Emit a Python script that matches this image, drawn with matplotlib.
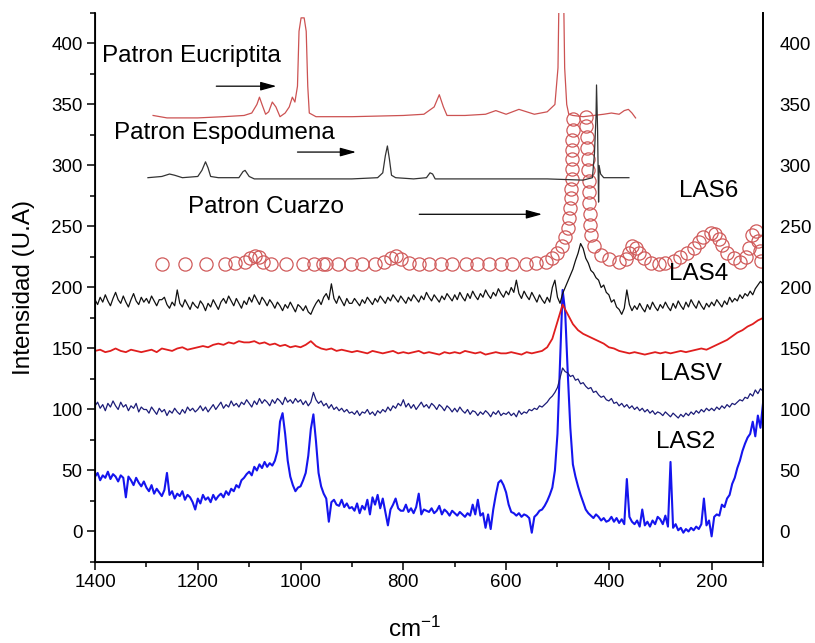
'''Raman spectra of LAS samples with reference patterns'''

import numpy as np
import matplotlib
matplotlib.use('Agg')
import matplotlib.pyplot as plt

plt.rcParams['font.family'] = ['Liberation Sans', 'DejaVu Sans']
plt.rcParams['mathtext.default'] = 'regular'

# sampling grids of the measured spectra (cm-1)
wn5 = np.arange(1400, 95, -5)
wn10 = np.arange(1400, 95, -10)

# LAS2 (blue), 5 cm-1 steps, rows of 100 cm-1
las2 = [45, 48, 42, 46, 44, 49, 43, 47, 45, 41, 46, 44, 28, 45, 42, 38, 44, 40, 37, 41,
        36, 33, 38, 31, 35, 32, 29, 34, 48, 30, 33, 27, 31, 29, 33, 26, 30, 28, 24, 18,
        27, 23, 30, 26, 28, 24, 30, 26, 29, 31, 28, 33, 30, 35, 33, 38, 36, 42, 44, 47,
        49, 46, 53, 50, 55, 52, 57, 53, 56, 54, 58, 66, 90, 97, 80, 58, 45, 38, 33, 36,
        37, 42, 48, 62, 84, 96, 74, 48, 37, 31, 27, 8, 24, 26, 22, 21, 26, 20, 23, 19,
        20, 17, 23, 15, 21, 18, 26, 14, 28, 22, 30, 19, 27, 16, 5, 18, 22, 27, 19, 17,
        17, 22, 16, 19, 15, 20, 31, 14, 18, 17, 16, 19, 15, 17, 21, 14, 18, 16, 13, 17,
        15, 13, 16, 14, 12, 15, 13, 22, 14, 26, 13, 15, 3, 14, 2, 18, 30, 40, 42, 38,
        32, 22, 16, 15, 13, 15, 12, 14, 13, 11, -1, 12, 14, 17, 18, 21, 25, 30, 36, 50,
        80, 140, 198, 180, 130, 85, 55, 45, 37, 30, 24, 18, 15, 13, 11, 14, 12, 9, 11, 8,
        9, 12, 8, 11, 7, 10, 6, 43, 12, 8, 6, 9, 4, 18, 5, 8, 4, 9, 6, 12,
        10, 6, 13, 4, 57, 3, 6, 1, 3, -1, 2, 0, 3, 1, 4, 2, 6, 27, 5, 9,
        -4, 12, 14, 13, 22, 20, 27, 30, 39, 44, 52, 58, 66, 72, 77, 80, 90, 78, 95, 85,
        105]

# second dark blue spectrum (~100 baseline)
las_navy = [103, 106, 101, 104, 99, 105, 102, 107, 103, 100, 106, 102, 104, 99, 103, 101, 105, 98, 102, 100,
            100, 97, 102, 99, 96, 101, 98, 100, 95, 99, 97, 101, 98, 96, 100, 97, 102, 99, 101, 98,
            100, 103, 99, 102, 98, 101, 104, 100, 103, 106, 101, 104, 102, 107, 103, 105, 102, 106, 104, 108,
            105, 102, 107, 104, 109, 105, 108, 106, 103, 108, 105, 109, 107, 104, 110, 106, 108, 105, 109, 106,
            108, 104, 107, 103, 106, 114, 108, 105, 107, 103, 105, 101, 104, 100, 102, 99, 101, 98, 100, 97,
            98, 96, 99, 95, 98, 97, 100, 96, 98, 95, 99, 97, 100, 98, 102, 99, 103, 101, 105, 103,
            108, 102, 105, 101, 104, 100, 103, 106, 102, 104, 101, 105, 103, 100, 104, 102, 99, 103, 101, 98,
            101, 98, 102, 99, 97, 100, 96, 99, 98, 95, 98, 96, 99, 97, 94, 98, 96, 99, 95, 97,
            96, 98, 95, 97, 94, 99, 96, 98, 97, 100, 99, 101, 100, 103, 102, 104, 106, 109, 111, 114,
            118, 126, 134, 131, 130, 127, 128, 124, 125, 121, 122, 119, 117, 118, 114, 115, 112, 110, 111, 108,
            107, 109, 105, 106, 103, 105, 102, 104, 101, 103, 100, 102, 99, 101, 98, 100, 97, 99, 96, 98,
            97, 95, 98, 96, 94, 97, 95, 93, 96, 94, 97, 95, 98, 96, 99, 97, 100, 98, 101, 99,
            101, 99, 102, 100, 103, 101, 104, 102, 105, 104, 106, 108, 107, 110, 109, 113, 111, 116, 113, 117,
            115]

# LAS4 (black)
las4 = [190, 186, 192, 188, 194, 189, 185, 191, 196, 190, 187, 193, 188, 184, 190, 195, 189, 186, 192, 188,
        191, 187, 193, 189, 185, 190, 190, 192, 186, 183, 188, 185, 198, 187, 184, 190, 186, 182, 188, 185,
        183, 189, 186, 181, 187, 184, 190, 186, 182, 188, 191, 187, 193, 189, 185, 191, 187, 183, 189, 186,
        192, 188, 194, 190, 186, 192, 189, 185, 190, 187, 183, 188, 185, 181, 186, 183, 188, 184, 180, 186,
        184, 181, 185, 180, 178, 183, 187, 190, 186, 192, 195, 190, 203, 191, 187, 193, 189, 185, 191, 187,
        187, 191, 188, 185, 190, 187, 192, 189, 186, 191, 188, 193, 190, 187, 192, 189, 194, 191, 188, 193,
        190, 187, 192, 189, 194, 191, 188, 193, 190, 196, 192, 189, 194, 191, 188, 193, 190, 195, 192, 189,
        194, 190, 196, 192, 189, 195, 191, 197, 193, 190, 195, 192, 198, 194, 191, 196, 193, 199, 195, 192,
        197, 194, 200, 196, 206, 195, 191, 197, 193, 190, 196, 192, 188, 194, 190, 187, 192, 188, 200, 206,
        192, 187, 195, 200, 205, 210, 215, 222, 228, 236, 232, 224, 220, 214, 212, 208, 206, 200, 202, 196,
        194, 188, 190, 184, 182, 178, 183, 198, 186, 181, 185, 182, 187, 183, 180, 186, 182, 188, 184, 181,
        186, 183, 188, 184, 181, 187, 183, 189, 185, 182, 188, 184, 190, 186, 183, 189, 185, 182, 187, 184,
        188, 185, 190, 187, 184, 189, 186, 192, 188, 191, 189, 194, 191, 195, 193, 197, 194, 199, 202, 205,
        203]

# red spectrum (~150 baseline), 10 cm-1 steps
las_red = [148, 149, 147, 148, 150, 148, 147, 149, 148, 147,
           148, 149, 147, 150, 149, 148, 150, 151, 149, 150,
           151, 152, 151, 153, 154, 153, 155, 154, 156, 155,
           155, 156, 154, 155, 153, 154, 152, 153, 151, 152,
           151, 153, 156, 152, 150, 149, 150, 148, 149, 148,
           147, 148, 147, 146, 148, 147, 146, 147, 148, 146,
           147, 146, 147, 148, 146, 147, 146, 145, 147, 146,
           147, 146, 148, 147, 146, 147, 145, 146, 147, 146,
           146, 147, 146, 145, 147, 146, 147, 148, 151, 158,
           172, 186, 178, 170, 165, 162, 160, 158, 156, 154,
           151, 150, 148, 147, 146, 147, 146, 145, 146, 147,
           146, 147, 146, 147, 148, 147, 148, 149, 150, 149,
           151, 153, 155, 157, 160, 163, 165, 168, 170, 173,
           175]

# LAS6 (open circles)
las6_x = [1270, 1225, 1184, 1148, 1128, 1109, 1099, 1089, 1080, 1074, 1057, 1028, 996, 973, 957,
          950, 928, 902, 880, 856, 837, 824, 814, 804, 788, 769, 750, 727, 705, 678,
          656, 633, 610, 588, 562, 542, 523, 511, 501, 492, 485, 480, 477, 475, 474,
          473, 472, 472, 471, 471, 471, 470, 470, 445, 444, 443, 442, 441, 440, 439,
          439, 438, 437, 436, 434, 429, 416, 400, 381, 367, 361, 355, 348, 342, 332,
          318, 303, 290, 274, 261, 248, 235, 225, 216, 202, 193, 186, 180, 171, 157,
          144, 134, 128, 122, 114, 109, 105, 103]
las6_y = [219, 219, 219, 219, 220, 221, 224, 226, 225, 221, 219, 219, 219, 219, 219,
          219, 219, 219, 219, 219, 221, 224, 226, 223, 220, 219, 219, 219, 219, 219,
          219, 219, 219, 219, 219, 220, 221, 224, 228, 234, 241, 249, 257, 265, 273,
          281, 289, 297, 305, 313, 321, 329, 338, 340, 332, 323, 314, 305, 296, 287,
          278, 269, 260, 251, 243, 234, 227, 223, 221, 223, 228, 234, 232, 228, 224,
          220, 219, 220, 222, 225, 228, 232, 237, 241, 245, 244, 240, 235, 228, 224,
          221, 225, 232, 243, 246, 238, 230, 222]

# reference pattern: eucriptita
eucr_x = [1287, 1260, 1200, 1150, 1110, 1095, 1085, 1080, 1075, 1068, 1062, 1055, 1048, 1040, 1030,
          1022, 1016, 1011, 1006, 1003, 999, 993, 989, 986, 983, 970, 900, 800, 760, 740,
          730, 722, 715, 680, 640, 620, 600, 575, 560, 545, 520, 505, 499, 497, 488,
          486, 482, 478, 470, 450, 430, 410, 395, 380, 370, 362, 355, 348]
eucr_y = [341, 339, 339, 340, 341, 343, 350, 356, 350, 342, 344, 352, 348, 340, 343,
          348, 356, 352, 365, 410, 421, 421, 410, 365, 343, 340, 340, 341, 342, 348,
          358, 348, 341, 341, 342, 345, 342, 346, 344, 342, 344, 350, 380, 440, 440,
          380, 350, 342, 341, 340, 341, 342, 343, 342, 345, 346, 343, 339]

# reference pattern: espodumena
espo_x = [1297, 1270, 1255, 1245, 1230, 1200, 1192, 1185, 1180, 1175, 1160, 1120, 1112, 1108, 1100,
          1090, 1000, 900, 850, 840, 835, 831, 827, 823, 815, 780, 755, 748, 743, 738,
          700, 600, 520, 450, 432, 428, 425, 424, 422, 420, 419, 416, 410, 400, 370, 361]
espo_y = [290, 291, 293, 292, 290, 291, 296, 303, 298, 291, 290, 290, 295, 296, 291,
          289, 289, 289, 290, 294, 308, 316, 305, 292, 290, 289, 290, 294, 293, 289,
          289, 289, 289, 288, 290, 310, 340, 366, 330, 270, 300, 293, 290, 290, 290, 290]

# text labels and arrows
labels = ['Patron Eucriptita', 'Patron Espodumena', 'Patron Cuarzo']
label_pos = [(1387, 390), (1364, 327), (1219, 266)]
arrows = [((1164, 365), (1047, 365)), ((1006, 311), (892, 311)), ((769, 260), (530, 260))]
samples = ['LAS6', 'LAS4', 'LASV', 'LAS2']
sample_pos = [(206, 279), (225, 211), (241, 129), (251, 73)]


fig = plt.figure(figsize=(8.15, 6.43), dpi=100)
ax = fig.add_axes([0.1166, 0.126, 0.8196, 0.8538])

# plot spectra
ax.plot(wn5, las2, color='#1515ee', lw=1.5)
ax.plot(wn5, las_navy, color='#1c1c78', lw=0.9)
ax.plot(wn10, las_red, color='#e01e1e', lw=1.3)
ax.plot(wn5, las4, color='#111111', lw=0.9)
ax.plot(las6_x, las6_y, 'o', mfc='none', mec='#d05a5a', mew=0.9, ms=9.5)
ax.plot(eucr_x, eucr_y, color='#cc5252', lw=0.9)
ax.plot(espo_x, espo_y, color='#333333', lw=0.9)

# labels
for txt, pos in zip(labels, label_pos):
    ax.text(pos[0], pos[1], txt, fontsize=17.5, ha='left', va='center')
for a, b in arrows:
    ax.annotate('', xy=b, xytext=a,
                arrowprops=dict(arrowstyle='-|>,head_length=0.8,head_width=0.22',
                                color='black', lw=0.9, mutation_scale=12,
                                shrinkA=0, shrinkB=0))
for txt, pos in zip(samples, sample_pos):
    ax.text(pos[0], pos[1], txt, fontsize=17.5, ha='center', va='center')

# axes setup
ax.set_xlim(1400, 100)
ax.set_ylim(-25, 425)
ax.set_xticks([1400, 1200, 1000, 800, 600, 400, 200])
ax.set_xticks(np.arange(1300, 99, -200), minor=True)
ax.set_yticks(np.arange(0, 401, 50))
ax.set_yticks(np.arange(-25, 426, 25), minor=True)
ax.tick_params(which='major', direction='out', length=6, width=1.1, labelsize=13.5, pad=3)
ax.tick_params(which='minor', direction='out', length=3.5, width=1.1)
ax.spines['top'].set_visible(False)
for s in ['left', 'bottom', 'right']:
    ax.spines[s].set_linewidth(1.3)

ax2 = ax.twinx()
ax2.set_ylim(-25, 425)
ax2.set_yticks(np.arange(0, 401, 50))
ax2.tick_params(axis='y', length=0, labelsize=13.5, pad=12)
ax2.spines['top'].set_visible(False)
ax2.spines['right'].set_linewidth(1.3)

ax.set_ylabel('Intensidad (U.A)', fontsize=17.5)
ax.yaxis.set_label_coords(-0.09, 0.5)
ax.set_xlabel('cm$^{-1}$', fontsize=17.5)
ax.xaxis.set_label_coords(0.478, -0.1)

fig.savefig('out.png', dpi=100)
